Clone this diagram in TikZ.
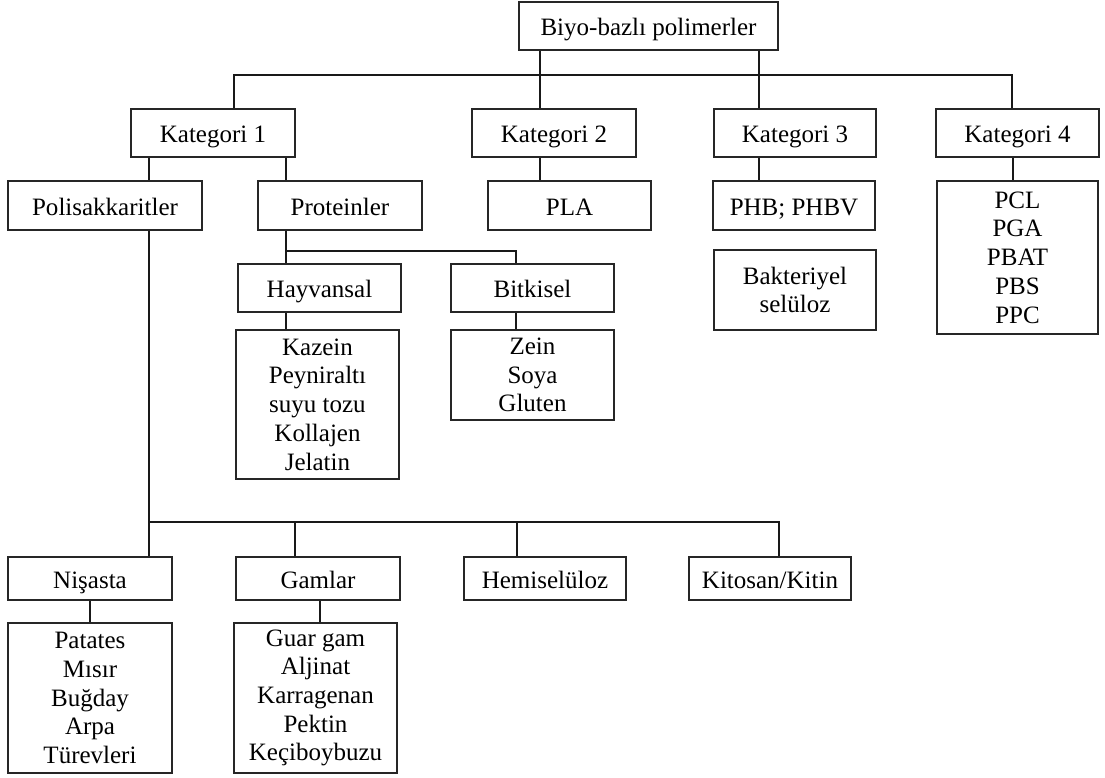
\documentclass[tikz,border=0pt]{standalone}
\usepackage{fontspec}
\setmainfont{Liberation Serif}
\begin{document}
\begin{tikzpicture}[x=1pt,y=-1pt,
  box/.style={draw=black!85,line width=1.1pt,inner sep=0pt,align=center,
    font=\fontsize{25}{28.7}\selectfont},
  one/.style={box,text height=23pt,text depth=3.6pt},
  conn/.style={draw=black!90,line width=1.7pt}]
\useasboundingbox (0,0) rectangle (1105,778);
% boxes
\node[one,minimum width=259pt,minimum height=48pt] (root) at (648.5,26) {Biyo-bazlı polimerler};
\node[one,minimum width=164pt,minimum height=48pt] (kat1) at (213,133) {Kategori 1};
\node[one,minimum width=164pt,minimum height=48pt] (kat2) at (554,133) {Kategori 2};
\node[one,minimum width=162pt,minimum height=48pt] (kat3) at (795,133) {Kategori 3};
\node[one,minimum width=163pt,minimum height=48pt] (kat4) at (1017.5,133) {Kategori 4};
\node[one,minimum width=194pt,minimum height=49pt] (poli) at (105,205.5) {Polisakkaritler};
\node[one,minimum width=164pt,minimum height=49pt] (prot) at (340,205.5) {Proteinler};
\node[one,minimum width=163pt,minimum height=49pt] (pla) at (569.5,205.5) {PLA};
\node[one,minimum width=162pt,minimum height=49pt] (phb) at (794,205.5) {PHB; PHBV};
\node[box,minimum width=161pt,minimum height=153pt] (k4list) at (1017.5,257.5) {PCL\\PGA\\PBAT\\PBS\\PPC};
\node[box,minimum width=162pt,minimum height=80pt] (bakt) at (795,290) {Bakteriyel\\selüloz};
\node[one,minimum width=163pt,minimum height=48pt] (hayv) at (319.5,288) {Hayvansal};
\node[one,minimum width=163pt,minimum height=48pt] (bitk) at (532.5,288) {Bitkisel};
\node[box,minimum width=163pt,minimum height=149pt] (kazein) at (317.5,404.5) {Kazein\\Peyniraltı\\suyu tozu\\Kollajen\\Jelatin};
\node[box,minimum width=163pt,minimum height=90pt] (zein) at (532.5,375) {Zein\\Soya\\Gluten};
\node[one,minimum width=164pt,minimum height=43pt] (nis) at (90,578.5) {Nişasta};
\node[one,minimum width=164pt,minimum height=43pt] (gam) at (318,578.5) {Gamlar};
\node[one,minimum width=162pt,minimum height=43pt] (hemi) at (545,578.5) {Hemiselüloz};
\node[one,minimum width=162pt,minimum height=43pt] (kito) at (770,578.5) {Kitosan/Kitin};
\node[box,minimum width=164pt,minimum height=150pt] (patlist) at (90,698) {Patates\\Mısır\\Buğday\\Arpa\\Türevleri};
\node[box,minimum width=163pt,minimum height=150pt] (gamlist) at (315.5,698) {Guar gam\\Aljinat\\Karragenan\\Pektin\\Keçiboybuzu};
% helper coordinates
\coordinate (busA) at (0,75);
\coordinate (busB) at (0,251);
\coordinate (busC) at (0,522);
\coordinate (xa) at (540,0);
\coordinate (xb) at (759,0);
\coordinate (x1) at (234,0);
\coordinate (x4) at (1012,0);
\coordinate (x4b) at (1013,0);
\coordinate (xp) at (149,0);
\coordinate (xq) at (286,0);
\coordinate (xbit) at (516,0);
\coordinate (xg) at (295,0);
\coordinate (xh) at (517,0);
\coordinate (xk) at (779,0);
\coordinate (xn) at (90,0);
\coordinate (xgl) at (320,0);
% connectors
\draw[conn] (root.south -| xa) -- (kat2.north -| xa);
\draw[conn] (root.south -| xb) -- (kat3.north -| xb);
\draw[conn] (kat1.north -| x1) -- (busA -| x1) -- (busA -| x4) -- (kat4.north -| x4);
\draw[conn] (kat1.south -| xp) -- (poli.north -| xp);
\draw[conn] (kat1.south -| xq) -- (prot.north -| xq);
\draw[conn] (kat2.south -| xa) -- (pla.north -| xa);
\draw[conn] (kat3.south -| xb) -- (phb.north -| xb);
\draw[conn] (kat4.south -| x4b) -- (k4list.north -| x4b);
\draw[conn] (prot.south -| xq) -- (hayv.north -| xq);
\draw[conn] (busB -| xq) -- (busB -| xbit) -- (bitk.north -| xbit);
\draw[conn] (hayv.south -| xq) -- (kazein.north -| xq);
\draw[conn] (bitk.south -| xbit) -- (zein.north -| xbit);
\draw[conn] (poli.south -| xp) -- (nis.north -| xp);
\draw[conn] (busC -| xp) -- (busC -| xk) -- (kito.north -| xk);
\draw[conn] (busC -| xg) -- (gam.north -| xg);
\draw[conn] (busC -| xh) -- (hemi.north -| xh);
\draw[conn] (nis.south -| xn) -- (patlist.north -| xn);
\draw[conn] (gam.south -| xgl) -- (gamlist.north -| xgl);
\end{tikzpicture}
\end{document}
